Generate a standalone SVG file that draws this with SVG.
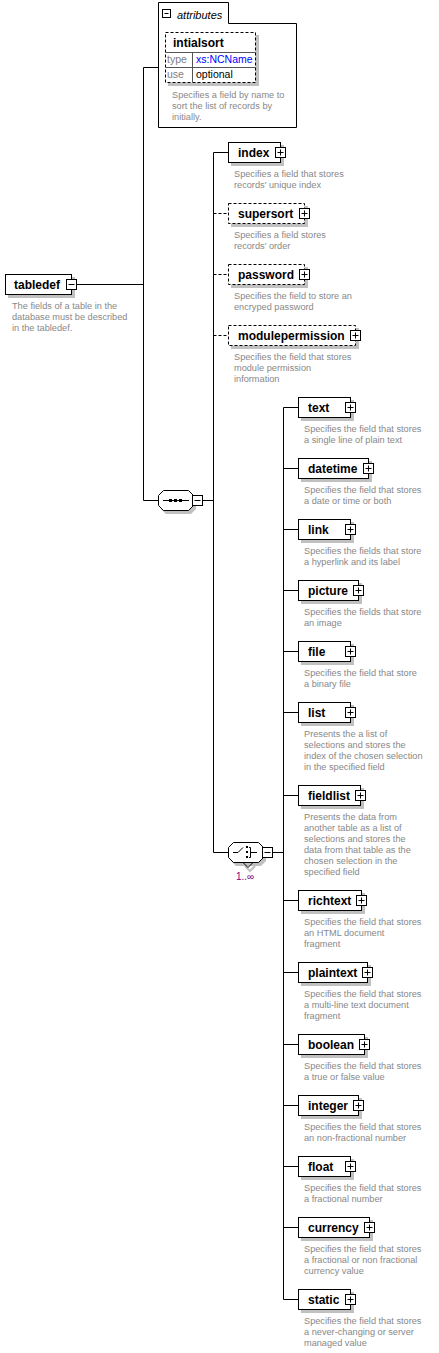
<svg xmlns="http://www.w3.org/2000/svg" xmlns:xlink="http://www.w3.org/1999/xlink" width="439" height="1353" viewBox="0 0 439 1353">
<style>
.bx{fill:#fff;stroke:#000;stroke-width:1}
.dsh{stroke-dasharray:3,2}
.sh{fill:#c0c0c0}
.nm{font-family:"Liberation Sans",Arial,sans-serif;font-weight:bold;font-size:12px;fill:#000}
.ds{font-family:"Liberation Sans",Arial,sans-serif;font-size:9.2px;fill:#888}
.ln{stroke:#000;stroke-width:1;fill:none}
.at{font-family:"Liberation Sans",Arial,sans-serif;font-size:10.5px}
</style>
<defs>
<g id="plus"><rect x="-5" y="-5" width="10" height="10" fill="#fff" stroke="#000"/><path d="M-3 0H3M0 -3V3" stroke="#000"/></g>
<g id="minus"><rect x="-5" y="-5" width="10" height="10" fill="#fff" stroke="#000"/><path d="M-3 0H3" stroke="#000"/></g>
<g id="minus-s"><rect x="-4" y="-4" width="8" height="8" fill="#fff" stroke="#000"/><path d="M-2 0H2" stroke="#000"/></g>
</defs>
<rect width="439" height="1353" fill="#fff"/>

<g id="connectors" class="ln">
<path d="M76 284.5H143.5M143.5 67.5V500.5M143.5 67.5H158.5M143.5 500.5H158.5"/>
<path d="M202.5 500.5H213.5M213.5 152.5V852.5M213.5 152.5H228.5M213.5 852.5H228.5"/>
<path d="M213.5 213.5H228.5M213.5 274.5H228.5M213.5 335.5H228.5" stroke-dasharray="3,2"/>
<path d="M272.5 852.5H283.5M283.5 407.5V1299.5"/>
<path d="M283.5 407.5H298.5M283.5 468.5H298.5M283.5 529.5H298.5M283.5 590.5H298.5M283.5 651.5H298.5M283.5 712.5H298.5M283.5 795.5H298.5M283.5 900.5H298.5M283.5 972.5H298.5M283.5 1044.5H298.5M283.5 1105.5H298.5M283.5 1166.5H298.5M283.5 1227.5H298.5M283.5 1299.5H298.5"/>
</g>

<g id="attributes">
<path class="bx" d="M158.5 2.5H228.5V23.5H296.5V127.5H158.5Z"/>
<use xlink:href="#minus-s" x="166.5" y="13.5"/>
<text x="177" y="19" font-family="Liberation Sans,Arial,sans-serif" font-style="italic" font-size="11">attributes</text>
<rect class="sh" x="168" y="35" width="91" height="51"/>
<rect class="bx dsh" x="165.5" y="32.5" width="90" height="50"/>
<path d="M165.5 52.5H255.5M165.5 67.5H255.5M192.5 52.5V82.5" stroke="#555" fill="none"/>
<text class="nm" x="173" y="47">intialsort</text>
<text class="at" x="167" y="63" fill="#808080">type</text>
<text class="at" x="196" y="63" fill="#0000ff">xs:NCName</text>
<text class="at" x="167" y="78" fill="#808080">use</text>
<text class="at" x="196" y="78" fill="#000">optional</text>
<text class="ds" x="172" y="98">Specifies a field by name to</text>
<text class="ds" x="172" y="109">sort the list of records by</text>
<text class="ds" x="172" y="120">initially.</text>
</g>

<g id="tabledef">
<rect class="sh" x="8" y="277" width="67" height="21"/>
<rect class="bx" x="5.5" y="274.5" width="66" height="20"/>
<text class="nm" x="14" y="289">tabledef</text>
<use xlink:href="#minus" x="71.5" y="284.5"/>
<text class="ds" x="12" y="309">The fields of a table in the</text>
<text class="ds" x="12" y="320">database must be described</text>
<text class="ds" x="12" y="331">in the tabledef.</text>
</g>

<g id="sequence">
<polygon class="sh" points="166,494 191,494 196,499 196,509 191,514 166,514 161,509 161,499"/>
<polygon class="bx" points="163.5,490.5 188.5,490.5 193.5,495.5 193.5,505.5 188.5,510.5 163.5,510.5 158.5,505.5 158.5,495.5"/>
<path class="ln" d="M163 500.5H189"/>
<rect x="169" y="499" width="3" height="3"/>
<rect x="174" y="499" width="3" height="3"/>
<rect x="179" y="499" width="3" height="3"/>
<use xlink:href="#minus" x="197.5" y="500.5"/>
</g>

<g id="choice">
<polygon class="sh" points="236,846 261,846 266,851 266,861 261,866 236,866 231,861 231,851"/>
<polyline points="245,866 250,871 255,866" fill="none" stroke="#c0c0c0" stroke-width="2"/>
<polyline class="ln" points="243,862.5 248,867.5 253,862.5"/>
<polygon class="bx" points="233.5,842.5 258.5,842.5 263.5,847.5 263.5,857.5 258.5,862.5 233.5,862.5 228.5,857.5 228.5,847.5"/>
<path class="ln" d="M233 852.5H238L243 847.5M249 847.5H250.5V857.5H249M250.5 852.5H257"/>
<rect x="246" y="846" width="2" height="2"/>
<rect x="246" y="851" width="2" height="2"/>
<rect x="246" y="856" width="2" height="2"/>
<use xlink:href="#minus" x="267.5" y="852.5"/>
<text x="236" y="880" font-family="Liberation Sans,Arial,sans-serif" font-size="10" fill="#800080">1..∞</text>
</g>

<g id="index">
<rect class="sh" x="231" y="145" width="53" height="21"/>
<rect class="bx" x="228.5" y="142.5" width="52" height="20"/>
<text class="nm" x="238" y="157">index</text>
<use xlink:href="#plus" x="280.5" y="152.5"/>
<text class="ds" x="234" y="177">Specifies a field that stores</text>
<text class="ds" x="234" y="188">records' unique index</text>
</g>

<g id="supersort">
<rect class="sh" x="231" y="206" width="77" height="21"/>
<rect class="bx dsh" x="228.5" y="203.5" width="76" height="20"/>
<text class="nm" x="238" y="218">supersort</text>
<use xlink:href="#plus" x="304.5" y="213.5"/>
<text class="ds" x="234" y="238">Specifies a field stores</text>
<text class="ds" x="234" y="249">records' order</text>
</g>

<g id="password">
<rect class="sh" x="231" y="267" width="77" height="21"/>
<rect class="bx dsh" x="228.5" y="264.5" width="76" height="20"/>
<text class="nm" x="238" y="279">password</text>
<use xlink:href="#plus" x="304.5" y="274.5"/>
<text class="ds" x="234" y="299">Specifies the field to store an</text>
<text class="ds" x="234" y="310">encryped password</text>
</g>

<g id="modulepermission">
<rect class="sh" x="231" y="328" width="128" height="21"/>
<rect class="bx dsh" x="228.5" y="325.5" width="127" height="20"/>
<text class="nm" x="238" y="340">modulepermission</text>
<use xlink:href="#plus" x="355.5" y="335.5"/>
<text class="ds" x="234" y="360">Specifies the field that stores</text>
<text class="ds" x="234" y="371">module permission</text>
<text class="ds" x="234" y="382">information</text>
</g>

<g id="text">
<rect class="sh" x="301" y="400" width="53" height="21"/>
<rect class="bx" x="298.5" y="397.5" width="52" height="20"/>
<text class="nm" x="308" y="412">text</text>
<use xlink:href="#plus" x="350.5" y="407.5"/>
<text class="ds" x="304" y="432">Specifies the field that stores</text>
<text class="ds" x="304" y="443">a single line of plain text</text>
</g>

<g id="datetime">
<rect class="sh" x="301" y="461" width="71" height="21"/>
<rect class="bx" x="298.5" y="458.5" width="70" height="20"/>
<text class="nm" x="308" y="473">datetime</text>
<use xlink:href="#plus" x="368.5" y="468.5"/>
<text class="ds" x="304" y="493">Specifies the field that stores</text>
<text class="ds" x="304" y="504">a date or time or both</text>
</g>

<g id="link">
<rect class="sh" x="301" y="522" width="53" height="21"/>
<rect class="bx" x="298.5" y="519.5" width="52" height="20"/>
<text class="nm" x="308" y="534">link</text>
<use xlink:href="#plus" x="350.5" y="529.5"/>
<text class="ds" x="304" y="554">Specifies the fields that store</text>
<text class="ds" x="304" y="565">a hyperlink and its label</text>
</g>

<g id="picture">
<rect class="sh" x="301" y="583" width="61" height="21"/>
<rect class="bx" x="298.5" y="580.5" width="60" height="20"/>
<text class="nm" x="308" y="595">picture</text>
<use xlink:href="#plus" x="358.5" y="590.5"/>
<text class="ds" x="304" y="615">Specifies the fields that store</text>
<text class="ds" x="304" y="626">an image</text>
</g>

<g id="file">
<rect class="sh" x="301" y="644" width="53" height="21"/>
<rect class="bx" x="298.5" y="641.5" width="52" height="20"/>
<text class="nm" x="308" y="656">file</text>
<use xlink:href="#plus" x="350.5" y="651.5"/>
<text class="ds" x="304" y="676">Specifies the field that store</text>
<text class="ds" x="304" y="687">a binary file</text>
</g>

<g id="list">
<rect class="sh" x="301" y="705" width="53" height="21"/>
<rect class="bx" x="298.5" y="702.5" width="52" height="20"/>
<text class="nm" x="308" y="717">list</text>
<use xlink:href="#plus" x="350.5" y="712.5"/>
<text class="ds" x="304" y="737">Presents the a list of</text>
<text class="ds" x="304" y="748">selections and stores the</text>
<text class="ds" x="304" y="759">index of the chosen selection</text>
<text class="ds" x="304" y="770">in the specified field</text>
</g>

<g id="fieldlist">
<rect class="sh" x="301" y="788" width="63" height="21"/>
<rect class="bx" x="298.5" y="785.5" width="62" height="20"/>
<text class="nm" x="308" y="800">fieldlist</text>
<use xlink:href="#plus" x="360.5" y="795.5"/>
<text class="ds" x="304" y="820">Presents the data from</text>
<text class="ds" x="304" y="831">another table as a list of</text>
<text class="ds" x="304" y="842">selections and stores the</text>
<text class="ds" x="304" y="853">data from that table as the</text>
<text class="ds" x="304" y="864">chosen selection in the</text>
<text class="ds" x="304" y="875">specified field</text>
</g>

<g id="richtext">
<rect class="sh" x="301" y="893" width="64" height="21"/>
<rect class="bx" x="298.5" y="890.5" width="63" height="20"/>
<text class="nm" x="308" y="905">richtext</text>
<use xlink:href="#plus" x="361.5" y="900.5"/>
<text class="ds" x="304" y="925">Specifies the field that stores</text>
<text class="ds" x="304" y="936">an HTML document</text>
<text class="ds" x="304" y="947">fragment</text>
</g>

<g id="plaintext">
<rect class="sh" x="301" y="965" width="70" height="21"/>
<rect class="bx" x="298.5" y="962.5" width="69" height="20"/>
<text class="nm" x="308" y="977">plaintext</text>
<use xlink:href="#plus" x="367.5" y="972.5"/>
<text class="ds" x="304" y="997">Specifies the field that stores</text>
<text class="ds" x="304" y="1008">a multi-line text document</text>
<text class="ds" x="304" y="1019">fragment</text>
</g>

<g id="boolean">
<rect class="sh" x="301" y="1037" width="67" height="21"/>
<rect class="bx" x="298.5" y="1034.5" width="66" height="20"/>
<text class="nm" x="308" y="1049">boolean</text>
<use xlink:href="#plus" x="364.5" y="1044.5"/>
<text class="ds" x="304" y="1069">Specifies the field that stores</text>
<text class="ds" x="304" y="1080">a true or false value</text>
</g>

<g id="integer">
<rect class="sh" x="301" y="1098" width="61" height="21"/>
<rect class="bx" x="298.5" y="1095.5" width="60" height="20"/>
<text class="nm" x="308" y="1110">integer</text>
<use xlink:href="#plus" x="358.5" y="1105.5"/>
<text class="ds" x="304" y="1130">Specifies the field that stores</text>
<text class="ds" x="304" y="1141">an non-fractional number</text>
</g>

<g id="float">
<rect class="sh" x="301" y="1159" width="53" height="21"/>
<rect class="bx" x="298.5" y="1156.5" width="52" height="20"/>
<text class="nm" x="308" y="1171">float</text>
<use xlink:href="#plus" x="350.5" y="1166.5"/>
<text class="ds" x="304" y="1191">Specifies the field that stores</text>
<text class="ds" x="304" y="1202">a fractional number</text>
</g>

<g id="currency">
<rect class="sh" x="301" y="1220" width="72" height="21"/>
<rect class="bx" x="298.5" y="1217.5" width="71" height="20"/>
<text class="nm" x="308" y="1232">currency</text>
<use xlink:href="#plus" x="369.5" y="1227.5"/>
<text class="ds" x="304" y="1252">Specifies the field that stores</text>
<text class="ds" x="304" y="1263">a fractional or non fractional</text>
<text class="ds" x="304" y="1274">currency value</text>
</g>

<g id="static">
<rect class="sh" x="301" y="1292" width="53" height="21"/>
<rect class="bx" x="298.5" y="1289.5" width="52" height="20"/>
<text class="nm" x="308" y="1304">static</text>
<use xlink:href="#plus" x="350.5" y="1299.5"/>
<text class="ds" x="304" y="1324">Specifies the field that stores</text>
<text class="ds" x="304" y="1335">a never-changing or server</text>
<text class="ds" x="304" y="1346">managed value</text>
</g>
</svg>
